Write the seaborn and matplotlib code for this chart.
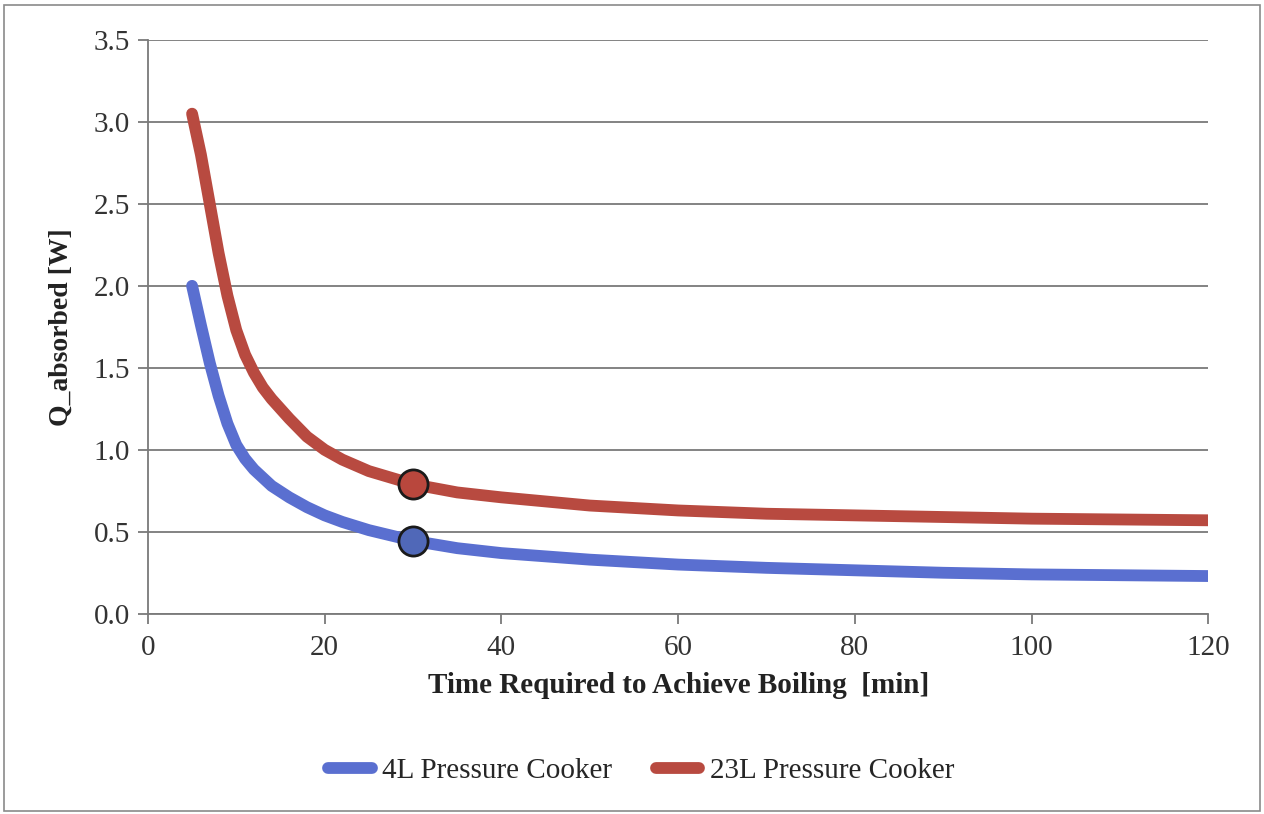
import pandas as pd
import matplotlib.pyplot as plt
import seaborn as sns

# Values
time_min = [5, 6, 7, 8, 9, 10, 11, 12, 13, 14, 16, 18, 20, 22, 25, 30, 35, 40, 50, 60, 70, 80, 90,
            100, 110, 120]
q_4l = [2.00, 1.76, 1.53, 1.33, 1.16, 1.03, 0.945, 0.88, 0.83, 0.78, 0.71, 0.65, 0.60, 0.56, 0.51,
        0.445, 0.40, 0.37, 0.33, 0.30, 0.28, 0.265, 0.25, 0.24, 0.235, 0.23]
q_23l = [3.05, 2.80, 2.50, 2.20, 1.94, 1.73, 1.58, 1.47, 1.38, 1.31, 1.19, 1.08, 1.00, 0.94, 0.87,
         0.79, 0.74, 0.71, 0.66, 0.63, 0.61, 0.60, 0.59, 0.58, 0.575, 0.57]
series_names = ['4L Pressure Cooker', '23L Pressure Cooker']

# Highlighted operating point
mark_time = [30, 30]
mark_q = [0.445, 0.79]

df = pd.concat([
    pd.DataFrame({'time': time_min, 'Q': q_4l, 'series': series_names[0]}),
    pd.DataFrame({'time': time_min, 'Q': q_23l, 'series': series_names[1]}),
])
marks = pd.DataFrame({'time': mark_time, 'Q': mark_q, 'series': series_names})

colors = {'4L Pressure Cooker': '#5a6fd0', '23L Pressure Cooker': '#b84a40'}
marker_fill = {'4L Pressure Cooker': '#5068b8', '23L Pressure Cooker': '#b9473d'}

sns.set_style('white')
plt.rcParams['font.family'] = ['Liberation Serif', 'DejaVu Serif']

fig = plt.figure(figsize=(12.64, 8.14), dpi=100)
ax = fig.add_axes([0.117, 0.246, 0.839, 0.705])

sns.lineplot(data=df, x='time', y='Q', hue='series', palette=colors,
             linewidth=8.5, solid_capstyle='round', solid_joinstyle='round', ax=ax, zorder=3)
for _, r in marks.iterrows():
    ax.plot(r['time'], r['Q'], 'o', markersize=21, markerfacecolor=marker_fill[r['series']],
            markeredgecolor='#1a1a1a', markeredgewidth=2, zorder=4)

ax.set_xlim(0, 120)
ax.set_ylim(0, 3.5)
ax.set_xticks(range(0, 121, 20))
ax.set_yticks([0, 0.5, 1.0, 1.5, 2.0, 2.5, 3.0, 3.5])
ax.set_yticklabels([f'{v:.1f}' for v in ax.get_yticks()])
ax.yaxis.grid(True, color='#7a7a7a', linewidth=1.3)
ax.set_axisbelow(True)
for s in ['top', 'right']:
    ax.spines[s].set_visible(False)
for s in ['left', 'bottom']:
    ax.spines[s].set_color('#7a7a7a')
    ax.spines[s].set_linewidth(1.3)
ax.tick_params(axis='both', labelsize=21, colors='#7a7a7a', labelcolor='#333333',
               length=7, width=1.3, direction='out', left=True, bottom=True)
ax.tick_params(axis='x', pad=8)
ax.tick_params(axis='y', pad=6)

ax.set_xlabel('Time Required to Achieve Boiling  [min]', fontsize=21, fontweight='bold',
              labelpad=8, color='#222222')
ax.set_ylabel('Q_absorbed [W]', fontsize=20, fontweight='bold', labelpad=14, color='#222222')

ax.legend(title=None, loc='upper center', bbox_to_anchor=(0.465, -0.205), ncol=2, frameon=False,
          fontsize=21, handlelength=1.5, columnspacing=1.5, handletextpad=0.35)

fig.patches.append(plt.Rectangle((0.003, 0.004), 0.994, 0.99, transform=fig.transFigure,
                                 fill=False, edgecolor='#8a8a8a', linewidth=1.2))

fig.savefig('out.png', dpi=100)
